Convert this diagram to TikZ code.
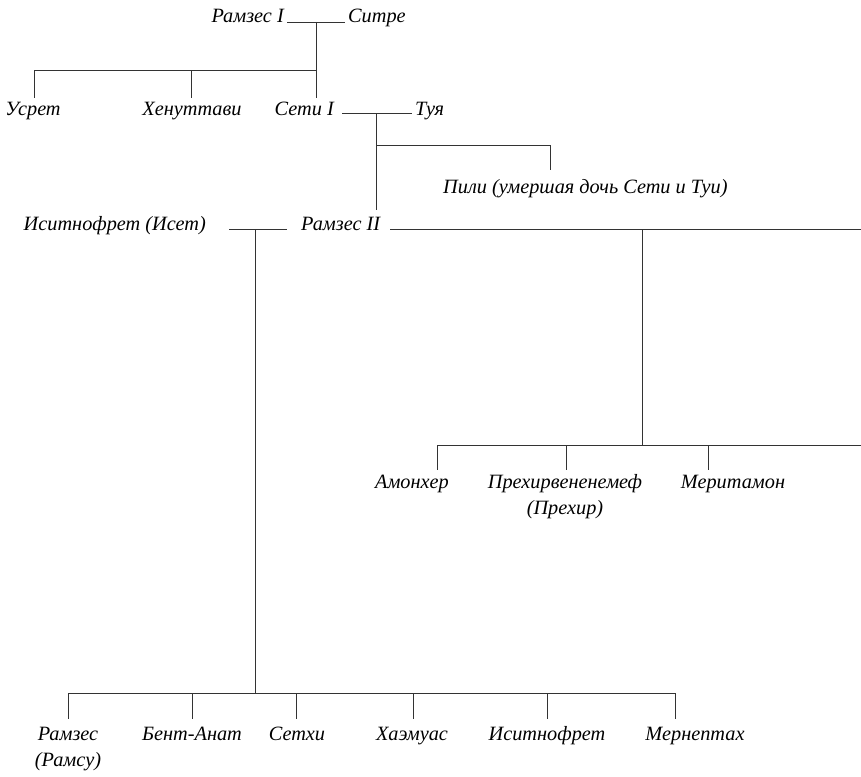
\documentclass[tikz,border=0pt]{standalone}
\usepackage{fontspec}
\setmainfont{Liberation Serif}
\begin{document}
\begin{tikzpicture}[x=1pt,y=-1pt,
  lbl/.style={inner sep=0pt,font=\fontsize{20.3}{26}\selectfont\itshape,align=center},
  tie/.style={line width=0.9pt,draw=black!80}]
\useasboundingbox (0,0) rectangle (861,776);
% ---- generation 1
\node[lbl,anchor=base east] (ramses1) at (284,23) {Рамзес I};
\node[lbl,anchor=base west] (sitre) at (348,23) {Ситре};
\coordinate (m1a) at (287,22);
\coordinate (m1b) at (345,22);
\coordinate (m1) at (316,22);
\coordinate (bus1) at (316,70);
\coordinate (bus1l) at (34,70);
\coordinate (bus1m) at (191,70);
\coordinate (d1a) at (34,98);
\coordinate (d1b) at (191,98);
\coordinate (d1c) at (316,98);
\draw[tie] (m1a) -- (m1b);
\draw[tie] (m1) -- (d1c);
\draw[tie] (bus1l) -- (bus1);
\draw[tie] (bus1l) -- (d1a);
\draw[tie] (bus1m) -- (d1b);
% ---- generation 2
\node[lbl,anchor=base] (usret) at (33,115) {Усрет};
\node[lbl,anchor=base] (henut) at (192,115) {Хенуттави};
\node[lbl,anchor=base east] (seti) at (334,115) {Сети I};
\node[lbl,anchor=base west] (tuya) at (415,115) {Туя};
\coordinate (m2a) at (342,113);
\coordinate (m2b) at (412,113);
\coordinate (m2) at (376,113);
\coordinate (m2br) at (376,145);
\coordinate (m2down) at (376,210);
\coordinate (pilitop) at (550,145);
\coordinate (pilid) at (550,170);
\draw[tie] (m2a) -- (m2b);
\draw[tie] (m2) -- (m2down);
\draw[tie] (m2br) -- (pilitop) -- (pilid);
\node[lbl,anchor=base west] (pili) at (443,193) {Пили (умершая дочь Сети и Туи)};
% ---- generation 3
\node[lbl,anchor=base east] (iset) at (206,230) {Иситнофрет (Исет)};
\node[lbl,anchor=base west] (ramses2) at (301,230) {Рамзес II};
\coordinate (m3a) at (229,229);
\coordinate (m3b) at (287,229);
\coordinate (m3) at (255,229);
\coordinate (m4a) at (390,229);
\coordinate (m4b) at (861,229);
\coordinate (m4) at (642,229);
\draw[tie] (m3a) -- (m3b);
\draw[tie] (m4a) -- (m4b);
% second wife's children
\coordinate (bus4) at (642,445);
\coordinate (bus4l) at (437,445);
\coordinate (bus4r) at (861,445);
\coordinate (bus4b) at (566,445);
\coordinate (bus4c) at (708,445);
\coordinate (d4a) at (437,470);
\coordinate (d4b) at (566,470);
\coordinate (d4c) at (708,470);
\draw[tie] (m4) -- (bus4);
\draw[tie] (bus4l) -- (bus4r);
\draw[tie] (bus4l) -- (d4a);
\draw[tie] (bus4b) -- (d4b);
\draw[tie] (bus4c) -- (d4c);
\node[lbl,anchor=base] (amonher) at (412,488) {Амонхер};
\node[lbl,anchor=base] (prehir) at (565,514) {Прехирвененемеф\\(Прехир)};
\node[lbl,anchor=base] (meritamon) at (733,488) {Меритамон};
% Iset's children
\coordinate (bus3) at (255,693);
\coordinate (bus3l) at (68,693);
\coordinate (bus3r) at (675,693);
\draw[tie] (m3) -- (bus3);
\draw[tie] (bus3l) -- (bus3r);
\foreach \x/\n in {68/ca,192/cb,296/cc,413/cd,547/ce,675/cf}{
  \coordinate (\n top) at (\x,693);
  \coordinate (\n bot) at (\x,719);
  \draw[tie] (\n top) -- (\n bot);
}
\node[lbl,anchor=base] (ramsu) at (68,766) {Рамзес\\(Рамсу)};
\node[lbl,anchor=base] (bentanat) at (192,740) {Бент-Анат};
\node[lbl,anchor=base] (sethi) at (297,740) {Сетхи};
\node[lbl,anchor=base] (haem) at (412,740) {Хаэмуас};
\node[lbl,anchor=base] (isit) at (547,740) {Иситнофрет};
\node[lbl,anchor=base] (mern) at (695,740) {Мернептах};
\end{tikzpicture}
\end{document}
